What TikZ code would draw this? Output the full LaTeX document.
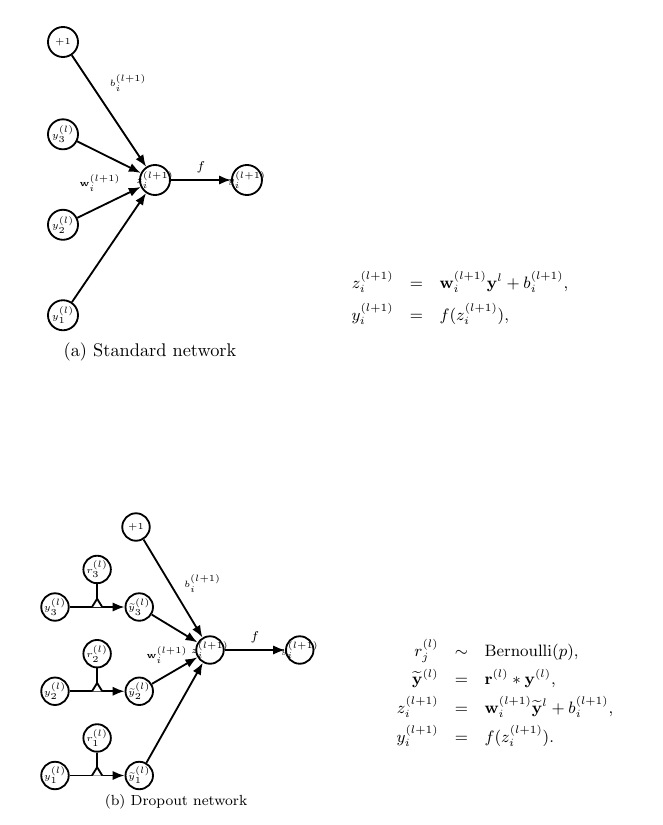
\documentclass[tikz,border=0pt]{standalone}
\usepackage{amsmath, amssymb, amsfonts}
\usepackage{tikz}
\usetikzlibrary{positioning, arrows.meta, calc}

\newcommand{\nlab}[1]{\makebox[0pt]{$#1$}}

\begin{document}
\begin{tikzpicture}[x=0.546pt, y=-0.546pt,
    neuron/.style={draw, circle, line width=1pt, minimum size=16.4pt, inner sep=0pt, font=\tiny},
    sneuron/.style={draw, circle, line width=1pt, minimum size=15pt, inner sep=0pt, font=\tiny},
    conn/.style={line width=1pt, -{Latex[length=6.5pt, width=5pt]}},
    lbl/.style={font=\tiny}]
\useasboundingbox (0,0) rectangle (662,825);

% (a) standard network
   \node[neuron] (one) at (63,42) {\nlab{+1}};
    \node[neuron, below=33pt of one] (y3) {\nlab{y_3^{(l)}}};
    \node[neuron, below=32pt of y3] (y2) {\nlab{y_2^{(l)}}};
    \node[neuron, below=32pt of y2] (y1) {\nlab{y_1^{(l)}}};
        \node[neuron] (z) at (155,180) {\nlab{z_i^{(l+1)}}};
        \node[neuron, right=32.8pt of z] (out) {\nlab{y_i^{(l+1)}}};

    \path (one) edge[conn] node[lbl, pos=0.4, above right=1pt] (blbl) {$b_i^{(l+1)}$} (z);
    \path (y3) edge[conn] (z);
    \path (y2) edge[conn] (z);
    \path (y1) edge[conn] (z);
    \path (z) edge[conn] node[lbl, above, font=\scriptsize] (flbl) {$f$} (out);
    \node[lbl] (wlbl) at (100,183) {$\mathbf{w}_i^{(l+1)}$};

    \node (capa) at (150,352) {(a) Standard network};
    \node[font=\small] (eqa) at (460,299) {$\begin{array}{r@{\quad}c@{\quad}l}
      z_i^{(l+1)} & = & \mathbf{w}_i^{(l+1)}\mathbf{y}^l + b_i^{(l+1)},\\[5pt]
      y_i^{(l+1)} & = & f(z_i^{(l+1)}),
    \end{array}$};

% (b) dropout network
   \node[sneuron] (done) at (136,527) {\nlab{+1}};
    \node[sneuron] (da3) at (55,607) {\nlab{y_3^{(l)}}};
    \node[sneuron, below=30pt of da3] (da2) {\nlab{y_2^{(l)}}};
    \node[sneuron, below=30pt of da2] (da1) {\nlab{y_1^{(l)}}};
    \foreach \k in {1,2,3} {
        \node[sneuron, right=30pt of da\k] (dt\k) {\nlab{\widetilde{y}_\k^{(l)}}};
        \coordinate (j\k) at ($(da\k)!0.5!(dt\k)$);
        \node[sneuron, above=12.5pt of j\k] (r\k) {\nlab{r_\k^{(l)}}};
        \path (da\k) edge[conn] (dt\k);
        \draw[line width=1pt] (r\k) -- (j\k);
        \draw[line width=1pt, fill=white] ([xshift=-2.8pt]j\k) -- ([yshift=4.5pt]j\k) -- ([xshift=2.8pt]j\k);
    }
        \node[sneuron] (dz) at (210,650) {\nlab{z_i^{(l+1)}}};
        \node[sneuron, right=33pt of dz] (dout) {\nlab{y_i^{(l+1)}}};

    \path (done) edge[conn] node[lbl, pos=0.45, right=4pt] (dblbl) {$b_i^{(l+1)}$} (dz);
    \foreach \k in {1,2,3} {
        \path (dt\k) edge[conn] (dz);
    }
    \path (dz) edge[conn] node[lbl, above, font=\scriptsize] (dflbl) {$f$} (dout);
    \node[lbl] (dwlbl) at (167,655) {$\mathbf{w}_i^{(l+1)}$};

    \node[font=\footnotesize] (capb) at (176,802) {(b) Dropout network};
    \node[font=\small] (eqb) at (505,694) {$\begin{array}{r@{\quad}c@{\quad}l}
      r_j^{(l)} & \sim & \mathrm{Bernoulli}(p),\\[3.5pt]
      \widetilde{\mathbf{y}}^{(l)} & = & \mathbf{r}^{(l)} * \mathbf{y}^{(l)},\\[3.5pt]
      z_i^{(l+1)} & = & \mathbf{w}_i^{(l+1)}\widetilde{\mathbf{y}}^l + b_i^{(l+1)},\\[3.5pt]
      y_i^{(l+1)} & = & f(z_i^{(l+1)}).
    \end{array}$};
\end{tikzpicture}
\end{document}
